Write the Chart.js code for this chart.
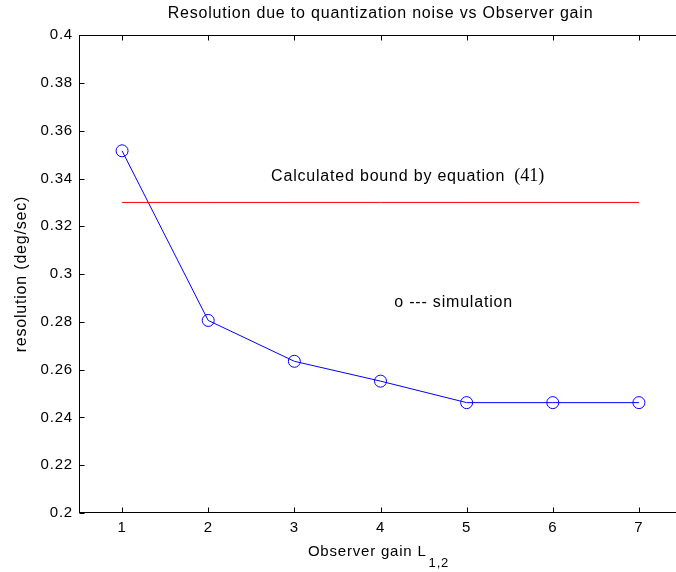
<!DOCTYPE html>
<html>
<head>
<meta charset="utf-8">
<title>Resolution vs Observer gain</title>
<script src="https://cdn.jsdelivr.net/npm/chart.js@4.4.1/dist/chart.umd.min.js"></script>
<style>
  html, body { margin: 0; padding: 0; background: #fff; overflow: hidden; }
  #wrap { width: 676px; height: 572px; overflow: hidden; }
  canvas { display: block; }
</style>
</head>
<body>
<div id="wrap"><canvas id="chart" width="690" height="572"></canvas></div>
<script>
// values
const gains = [1, 2, 3, 4, 5, 6, 7];
const resolution = [0.3516, 0.2806, 0.2635, 0.2552, 0.2462, 0.2462, 0.2462];
const boundGain = [1, 7];
const boundValue = [0.33, 0.33];

const xTicks = [1, 2, 3, 4, 5, 6, 7];
const yTicks = [0.2, 0.22, 0.24, 0.26, 0.28, 0.3, 0.32, 0.34, 0.36, 0.38, 0.4];
const yTickLabels = ["0.2", "0.22", "0.24", "0.26", "0.28", "0.3", "0.32", "0.34", "0.36", "0.38", "0.4"];

const chartTitle = "Resolution due to quantization noise vs Observer gain";
const xTitle = "Observer gain L";
const xTitleSub = "1,2";
const yTitle = "resolution (deg/sec)";

// text notes inside the axes, placed in data units
const notes = [
  { text: "Calculated bound by equation", ref: "(41)", x: 2.73, y: 0.3407 },
  { text: "o --- simulation", x: 4.16, y: 0.288 },
];

const FONT = '"Liberation Sans", Arial, Helvetica, sans-serif';
const SPACING = "0.8px";

Chart.defaults.color = "#000";
Chart.defaults.font.family = FONT;

// MATLAB style text is spaced out a little
const spacing = {
  id: "spacing",
  beforeUpdate(chart) { chart.ctx.letterSpacing = SPACING; },
  beforeDraw(chart) { chart.ctx.letterSpacing = SPACING; },
};

// axes box, inward ticks, x label with subscript and the notes
const frame = {
  id: "frame",
  afterDraw(chart) {
    const { ctx, chartArea: a, scales } = chart;
    const L = Math.round(a.left) + 0.5;
    const R = Math.round(a.right) + 0.5;
    const T = Math.round(a.top) + 0.5;
    const B = Math.round(a.bottom) - 0.5;
    const tick = 5;

    ctx.save();
    ctx.strokeStyle = "#000";
    ctx.lineWidth = 1;
    ctx.strokeRect(L, T, R - L, B - T);
    ctx.beginPath();
    scales.x.ticks.forEach((t) => {
      const px = Math.round(scales.x.getPixelForValue(t.value)) + 0.5;
      ctx.moveTo(px, B); ctx.lineTo(px, B - tick);
      ctx.moveTo(px, T); ctx.lineTo(px, T + tick);
    });
    scales.y.ticks.forEach((t) => {
      const py = Math.round(scales.y.getPixelForValue(t.value)) + 0.5;
      ctx.moveTo(L, py); ctx.lineTo(L + tick, py);
      ctx.moveTo(R, py); ctx.lineTo(R - tick, py);
    });
    ctx.stroke();

    // x axis title
    ctx.fillStyle = "#000";
    ctx.letterSpacing = SPACING;
    ctx.textBaseline = "middle";
    ctx.textAlign = "left";
    ctx.font = "15px " + FONT;
    const w1 = ctx.measureText(xTitle).width;
    ctx.font = "13px " + FONT;
    const w2 = ctx.measureText(xTitleSub).width;
    const cx = (a.left + a.right) / 2 - 2;
    const x0 = cx - (w1 + 2 + w2) / 2;
    ctx.font = "15px " + FONT;
    ctx.fillText(xTitle, x0, 552);
    ctx.font = "13px " + FONT;
    ctx.fillText(xTitleSub, x0 + w1 + 2, 563);

    // notes
    notes.forEach((n) => {
      const px = scales.x.getPixelForValue(n.x);
      const py = scales.y.getPixelForValue(n.y);
      ctx.font = "16px " + FONT;
      ctx.letterSpacing = SPACING;
      ctx.fillText(n.text, px, py);
      if (n.ref) {
        const w = ctx.measureText(n.text).width;
        ctx.letterSpacing = "0px";
        ctx.font = '18px "Liberation Serif", "Times New Roman", serif';
        ctx.fillText(n.ref, px + w + 9, py - 1);
      }
    });
    ctx.restore();
  },
};

new Chart(document.getElementById("chart"), {
  type: "scatter",
  data: {
    datasets: [
      {
        label: "bound",
        data: boundGain.map((g, i) => ({ x: g, y: boundValue[i] })),
        showLine: true,
        borderColor: "#ff0000",
        borderWidth: 1,
        pointRadius: 0,
      },
      {
        label: "simulation",
        data: gains.map((g, i) => ({ x: g, y: resolution[i] })),
        showLine: true,
        borderColor: "#0000ff",
        borderWidth: 1,
        pointRadius: 6,
        pointBorderWidth: 1,
        pointBorderColor: "#0000ff",
        pointBackgroundColor: "rgba(0,0,0,0)",
      },
    ],
  },
  options: {
    responsive: false,
    animation: false,
    events: [],
    layout: { padding: { left: 0, right: 8, top: 0, bottom: 0 } },
    scales: {
      x: {
        type: "linear",
        min: 0.5,
        max: 7.5,
        grid: { display: false, drawTicks: false },
        border: { display: false },
        afterBuildTicks: (scale) => { scale.ticks = xTicks.map((v) => ({ value: v })); },
        afterFit: (scale) => { scale.height = 59; },
        ticks: {
          autoSkip: false,
          maxRotation: 0,
          padding: 6,
          font: { size: 15 },
          callback: (v, i) => String(xTicks[i]),
        },
      },
      y: {
        type: "linear",
        min: 0.2,
        max: 0.4,
        grid: { display: false, drawTicks: false },
        border: { display: false },
        afterBuildTicks: (scale) => { scale.ticks = yTicks.map((v) => ({ value: v })); },
        afterFit: (scale) => { scale.width = 79; },
        ticks: {
          autoSkip: false,
          padding: 6,
          font: { size: 15 },
          callback: (v, i) => yTickLabels[i],
        },
        title: {
          display: true,
          text: yTitle,
          font: { size: 16 },
          padding: { top: 12, bottom: 0 },
        },
      },
    },
    plugins: {
      legend: { display: false },
      tooltip: { enabled: false },
      title: {
        display: true,
        text: chartTitle,
        fullSize: false,
        font: { size: 16, weight: "normal" },
        padding: { top: 4, bottom: 12 },
      },
    },
  },
  plugins: [spacing, frame],
});
</script>
</body>
</html>
